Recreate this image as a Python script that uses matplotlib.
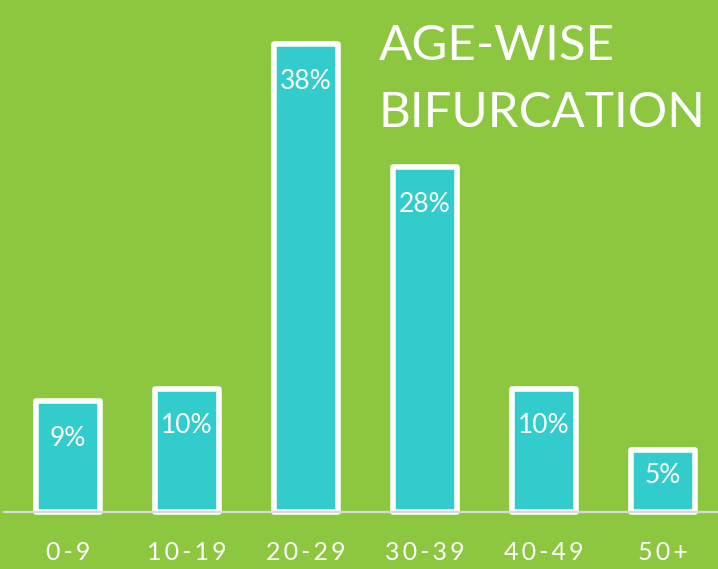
import matplotlib.pyplot as plt
import numpy as np

ages = ["0-9", "10-19", "20-29", "30-39", "40-49", "50+"]
share = [9, 10, 38, 28, 10, 5]
title_lines = ["AGE-WISE", "BIFURCATION"]

bg = "#8DC63F"
teal = "#33CCCC"

plt.rcParams['font.family'] = ['Lato', 'DejaVu Sans']

fig = plt.figure(figsize=(7.18, 5.69), dpi=100, facecolor=bg)
ax = fig.add_axes([0, 0, 1, 1])
ax.set_facecolor(bg)

x = np.arange(len(ages))
bars = ax.bar(x, share, width=0.545, color=teal, edgecolor="white", linewidth=4.0, zorder=2)
for b in bars:
    b.set_joinstyle("round")

# percent labels inside bars, near the top
for xi, v in zip(x, share):
    y = max(v - 3.0, v * 0.6)
    ax.text(xi, y, f"{v}%", ha="center", va="center", color="white",
            fontsize=19, zorder=3)

ax.axhline(0, color="#DADADA", linewidth=1.6, xmin=0.005, zorder=4)

ax.set_xlim(-0.571, 5.462)
ax.set_ylim(-4.63, 41.6)
ax.set_xticks(x)
ax.set_xticklabels([])
for xi, lab in zip(x, ages):
    ax.text(xi, -3.3, "\u2009".join(lab), ha="center", va="center", color="white",
            fontsize=18)
ax.tick_params(length=0)
ax.set_yticks([])
for s in ax.spines.values():
    s.set_visible(False)

fig.text(0.527, 0.8946, title_lines[0], color="white", fontsize=35.5,
         ha="left", va="baseline")
fig.text(0.527, 0.7768, title_lines[1], color="white", fontsize=35.5,
         ha="left", va="baseline")

fig.savefig("out.png", dpi=100, facecolor=bg)
